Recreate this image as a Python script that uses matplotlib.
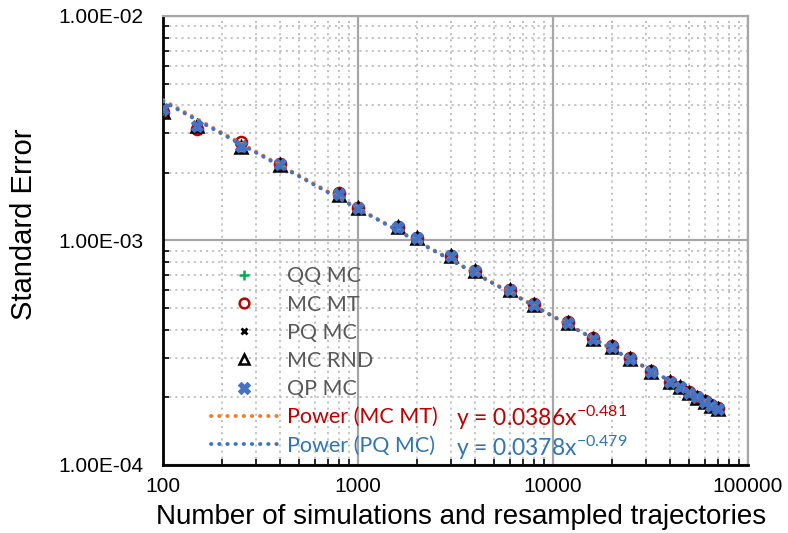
import matplotlib
matplotlib.use("Agg")
import matplotlib.pyplot as plt
import numpy as np
from matplotlib.lines import Line2D
from matplotlib.ticker import LogLocator, NullFormatter, FixedLocator, FixedFormatter

# ---------------- data ----------------
n_sims = [100, 150, 250, 400, 800, 1000, 1600, 2000, 3000, 4000, 6000, 8000,
          12000, 16000, 20000, 25000, 32000, 40000, 45000, 50000, 55000,
          60000, 65000, 70000]

qq_mc = [3.80e-3, 3.18e-3, 2.62e-3, 2.17e-3, 1.60e-3, 1.41e-3, 1.15e-3, 1.02e-3,
         8.50e-4, 7.30e-4, 6.00e-4, 5.15e-4, 4.30e-4, 3.64e-4, 3.36e-4, 2.97e-4,
         2.60e-4, 2.34e-4, 2.22e-4, 2.09e-4, 2.00e-4, 1.91e-4, 1.83e-4, 1.78e-4]
mc_mt = [3.72e-3, 3.12e-3, 2.74e-3, 2.19e-3, 1.62e-3, 1.40e-3, 1.15e-3, 1.02e-3,
         8.55e-4, 7.28e-4, 6.02e-4, 5.18e-4, 4.32e-4, 3.66e-4, 3.37e-4, 2.98e-4,
         2.61e-4, 2.35e-4, 2.23e-4, 2.10e-4, 2.01e-4, 1.92e-4, 1.84e-4, 1.79e-4]
pq_mc = [3.78e-3, 3.22e-3, 2.63e-3, 2.18e-3, 1.60e-3, 1.39e-3, 1.14e-3, 1.01e-3,
         8.45e-4, 7.25e-4, 5.98e-4, 5.13e-4, 4.28e-4, 3.62e-4, 3.34e-4, 2.95e-4,
         2.59e-4, 2.33e-4, 2.21e-4, 2.08e-4, 1.99e-4, 1.90e-4, 1.82e-4, 1.77e-4]
mc_rnd = [3.75e-3, 3.25e-3, 2.62e-3, 2.17e-3, 1.59e-3, 1.40e-3, 1.15e-3, 1.02e-3,
          8.48e-4, 7.27e-4, 5.99e-4, 5.14e-4, 4.29e-4, 3.63e-4, 3.35e-4, 2.96e-4,
          2.60e-4, 2.33e-4, 2.21e-4, 2.08e-4, 1.99e-4, 1.90e-4, 1.82e-4, 1.77e-4]
qp_mc = [3.85e-3, 3.22e-3, 2.64e-3, 2.20e-3, 1.61e-3, 1.40e-3, 1.15e-3, 1.02e-3,
         8.50e-4, 7.30e-4, 6.00e-4, 5.16e-4, 4.30e-4, 3.64e-4, 3.36e-4, 2.97e-4,
         2.60e-4, 2.34e-4, 2.22e-4, 2.09e-4, 2.00e-4, 1.91e-4, 1.83e-4, 1.78e-4]

series_names = ["QQ MC", "MC MT", "PQ MC", "MC RND", "QP MC"]

# power trendlines y = a * x^b
fit_mt = (0.0386, -0.481)
fit_pq = (0.0378, -0.479)
fit_labels = ["Power (MC MT)", "Power (PQ MC)"]
eq_mt = "y = 0.0386x$^{-0.481}$"
eq_pq = "y = 0.0378x$^{-0.479}$"

x_ticks = [100, 1000, 10000, 100000]
x_ticklabels = ["100", "1000", "10000", "100000"]
y_ticks = [1e-4, 1e-3, 1e-2]
y_ticklabels = ["1.00E-04", "1.00E-03", "1.00E-02"]

# ---------------- figure ----------------
plt.rcParams['mathtext.fontset'] = 'custom'
plt.rcParams['mathtext.rm'] = 'Lato'
plt.rcParams['mathtext.it'] = 'Lato'
plt.rcParams['mathtext.sf'] = 'Lato'

fig = plt.figure(figsize=(7.88, 5.33), dpi=100)
ax = fig.add_axes([0.207, 0.128, 0.742, 0.842])
ax.set_xscale('log')
ax.set_yscale('log')
ax.set_xlim(100, 100000)
ax.set_ylim(1e-4, 1e-2)

# grid
ax.grid(which='major', color='#A6A6A6', linestyle='-', linewidth=1.6, zorder=0)
ax.grid(which='minor', color='#BFBFBF', linestyle=(0, (1.2, 2.2)), linewidth=1.3, zorder=0)
ax.set_axisbelow(True)

# points
green = '#00B050'
red = '#C00000'
blue = '#4472C4'
orange = '#ED7D31'
ax.plot(n_sims, qq_mc, linestyle='none', marker='+', color=green, markersize=7, mew=1.8, zorder=3)
ax.plot(n_sims, mc_mt, linestyle='none', marker='o', mfc='none', mec=red, markersize=8, mew=1.8, zorder=3)
ax.plot(n_sims, pq_mc, linestyle='none', marker='x', color='black', markersize=5.5, mew=2, zorder=3)
ax.plot(n_sims, mc_rnd, linestyle='none', marker='^', mfc='none', mec='black', markersize=8, mew=1.8, zorder=3)
ax.plot(n_sims, qp_mc, linestyle='none', marker='X', color=blue, mec=blue, markersize=8, mew=0.8, zorder=4)

# trendlines
xline = np.logspace(np.log10(n_sims[0]), np.log10(n_sims[-1]), 200)
dot = (0, (0.1, 2.0))
ax.plot(xline, fit_mt[0] * xline ** fit_mt[1], color=orange, linestyle=dot, linewidth=2.8,
        dash_capstyle='round', zorder=5)
ax.plot(xline, fit_pq[0] * xline ** fit_pq[1], color=blue, linestyle=dot, linewidth=2.8,
        dash_capstyle='round', zorder=6)

# ticks
ax.xaxis.set_major_locator(FixedLocator(x_ticks))
ax.xaxis.set_major_formatter(FixedFormatter(x_ticklabels))
ax.yaxis.set_major_locator(FixedLocator(y_ticks))
ax.yaxis.set_major_formatter(FixedFormatter(y_ticklabels))
ax.xaxis.set_minor_locator(LogLocator(base=10, subs=np.arange(2, 10), numticks=20))
ax.yaxis.set_minor_locator(LogLocator(base=10, subs=np.arange(2, 10), numticks=20))
ax.xaxis.set_minor_formatter(NullFormatter())
ax.yaxis.set_minor_formatter(NullFormatter())
ax.tick_params(which='major', length=0, labelsize=15)
ax.tick_params(axis='y', which='major', pad=14.4)
ax.tick_params(axis='x', which='major', pad=9)
ax.tick_params(which='minor', direction='in', length=4, width=1.2, color='black')
ax.tick_params(which='minor', top=False, right=False)
for lab in ax.get_xticklabels() + ax.get_yticklabels():
    lab.set_fontfamily('Liberation Sans')

for s in ['left', 'bottom']:
    ax.spines[s].set_color('black')
    ax.spines[s].set_linewidth(2)
for s in ['top', 'right']:
    ax.spines[s].set_color('#A6A6A6')
    ax.spines[s].set_linewidth(1.6)

ax.set_xlabel("Number of simulations and resampled trajectories", fontsize=20,
              family='Liberation Sans')
ax.xaxis.label.set_verticalalignment('center')
ax.xaxis.set_label_coords(0.509, -0.116)
ax.set_ylabel("Standard Error", fontsize=21, family='Liberation Sans')
ax.yaxis.label.set_verticalalignment('center')
ax.yaxis.set_label_coords(-0.238, 0.537)

# legend
handles = [
    Line2D([], [], linestyle='none', marker='+', color=green, markersize=7, mew=1.8),
    Line2D([], [], linestyle='none', marker='o', mfc='none', mec=red, markersize=7, mew=1.8),
    Line2D([], [], linestyle='none', marker='x', color='black', markersize=5, mew=2),
    Line2D([], [], linestyle='none', marker='^', mfc='none', mec='black', markersize=7, mew=1.8),
    Line2D([], [], linestyle='none', marker='X', color=blue, markersize=8, mew=0.8),
    Line2D([], [], color=orange, linestyle=dot, linewidth=2.8, dash_capstyle='round'),
    Line2D([], [], color=blue, linestyle=dot, linewidth=2.8, dash_capstyle='round'),
]
labels = series_names + fit_labels
leg = ax.legend(handles, labels, loc='upper left', bbox_to_anchor=(0.082, 0.442),
                frameon=False, prop={'family': 'Lato', 'size': 15.5},
                handlelength=3.07, handletextpad=0.45, labelspacing=0.38,
                borderaxespad=0, borderpad=0)
text_colors = ['#595959'] * 5 + [red, '#2E75B6']
for t, c in zip(leg.get_texts(), text_colors):
    t.set_color(c)

# equations
ax.text(0.501, 0.105, eq_mt, transform=ax.transAxes, color=red, fontsize=16.5,
        family='Lato', va='center', ha='left', zorder=7)
ax.text(0.501, 0.037, eq_pq, transform=ax.transAxes, color='#2E75B6', fontsize=16.5,
        family='Lato', va='center', ha='left', zorder=7)

fig.savefig("out.png", dpi=100)
